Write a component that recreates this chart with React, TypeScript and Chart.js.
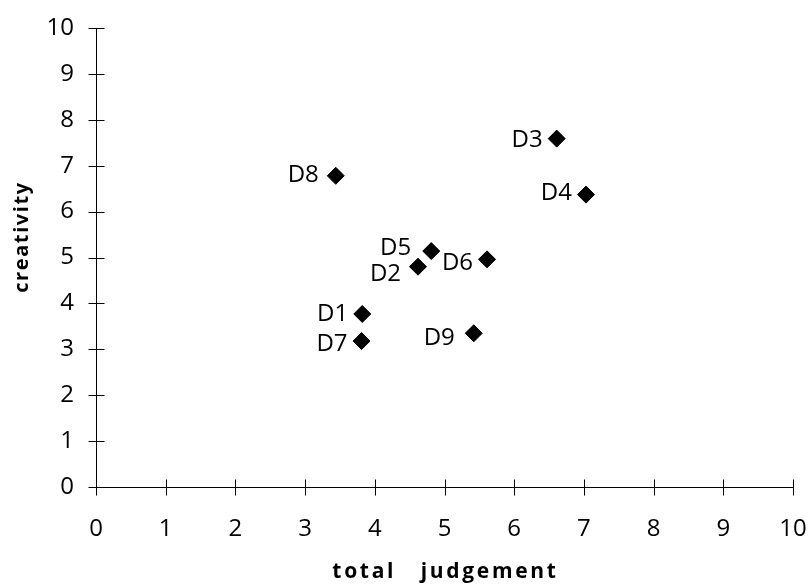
import React, { useEffect, useRef } from "react";
import { Chart, registerables } from "chart.js";

Chart.register(...registerables);

// ---- data ----
const pointNames = ["D1", "D2", "D3", "D4", "D5", "D6", "D7", "D8", "D9"];
const judgementValues = [3.82, 4.62, 6.61, 7.03, 4.81, 5.61, 3.81, 3.44, 5.42];
const creativityValues = [3.77, 4.8, 7.59, 6.37, 5.14, 4.96, 3.18, 6.78, 3.35];
const axisTickValues = [0, 1, 2, 3, 4, 5, 6, 7, 8, 9, 10];
const xTitle = "total   judgement";
const yTitle = "creativity";

// label placement nudges (layout only): [gap from marker centre to text right edge, vertical shift]
const labelNudge: [number, number][] = [
  [14, -1],
  [17, 6],
  [14, 0],
  [14, -3],
  [20, -5],
  [14, 2.5],
  [14, 1.5],
  [17, -2],
  [19, 3.5],
];

const FONT = "'Open Sans', 'DejaVu Sans', sans-serif";

const decorPlugin = {
  id: "decor",
  afterDraw(chart: any) {
    const ctx = chart.ctx as CanvasRenderingContext2D;
    const xs = chart.scales.x;
    const ys = chart.scales.y;
    const area = chart.chartArea;
    ctx.save();
    // crossing tick marks
    ctx.strokeStyle = "#000";
    ctx.lineWidth = 1;
    ctx.beginPath();
    const yAxisX = Math.round(area.left) + 0.5;
    const xAxisY = Math.round(area.bottom) + 0.5;
    axisTickValues.forEach((v) => {
      const py = Math.round(ys.getPixelForValue(v)) + 0.5;
      ctx.moveTo(yAxisX - 8, py);
      ctx.lineTo(yAxisX + 8, py);
      const px = Math.round(xs.getPixelForValue(v)) + 0.5;
      ctx.moveTo(px, xAxisY - 8);
      ctx.lineTo(px, xAxisY + 8);
    });
    ctx.stroke();

    // point labels
    const meta = chart.getDatasetMeta(0);
    ctx.fillStyle = "#000";
    ctx.font = `24px ${FONT}`;
    ctx.textAlign = "right";
    ctx.textBaseline = "alphabetic";
    meta.data.forEach((el: any, i: number) => {
      const [gap, dy] = labelNudge[i] || [15, 0];
      ctx.fillText(pointNames[i], el.x - gap, el.y + dy + 8.5);
    });

    // axis titles
    ctx.font = `bold 21px ${FONT}`;
    (ctx as any).letterSpacing = "2.7px";
    ctx.textAlign = "center";
    ctx.fillText(xTitle, (area.left + area.right) / 2 + 1, 578);
    ctx.font = `bold 20px ${FONT}`;
    (ctx as any).letterSpacing = "1.6px";
    ctx.translate(28, 237);
    ctx.rotate(-Math.PI / 2);
    ctx.fillText(yTitle, 0, 0);
    ctx.restore();
  },
};

export default function App() {
  const canvasRef = useRef<HTMLCanvasElement | null>(null);

  useEffect(() => {
    if (!canvasRef.current) return;
    const points = judgementValues.map((x, i) => ({ x, y: creativityValues[i] }));
    const chart = new Chart(canvasRef.current, {
      type: "scatter",
      data: {
        datasets: [
          {
            data: points,
            pointStyle: "rectRot",
            pointRadius: 8.5,
            pointHoverRadius: 8.5,
            backgroundColor: "#000",
            borderColor: "#000",
            borderWidth: 1,
          },
        ],
      },
      options: {
        animation: false,
        responsive: true,
        maintainAspectRatio: false,
        layout: { padding: { top: 28, right: 17, left: 0, bottom: 0 } },
        plugins: { legend: { display: false }, tooltip: { enabled: false } },
        scales: {
          x: {
            type: "linear",
            min: 0,
            max: 10,
            afterFit: (s: any) => {
              s.height = 99;
            },
            afterBuildTicks: (s: any) => {
              s.ticks = axisTickValues.map((v) => ({ value: v }));
            },
            grid: { display: false, drawTicks: true, tickLength: 28 },
            border: { display: true, color: "#000", width: 1 },
            ticks: {
              padding: 0,
              color: "#000",
              font: { family: FONT, size: 24 },
              maxRotation: 0,
            },
          },
          y: {
            type: "linear",
            min: 0,
            max: 10,
            afterFit: (s: any) => {
              s.width = 96;
            },
            afterBuildTicks: (s: any) => {
              s.ticks = axisTickValues.map((v) => ({ value: v }));
            },
            grid: { display: false, drawTicks: true, tickLength: 22 },
            border: { display: true, color: "#000", width: 1 },
            ticks: {
              padding: 0,
              color: "#000",
              font: { family: FONT, size: 24 },
            },
          },
        },
      },
      plugins: [decorPlugin],
    });
    return () => chart.destroy();
  }, []);

  return (
    <div style={{ position: "fixed", left: 0, top: 0, width: 810, height: 586, background: "#fff" }}>
      <canvas ref={canvasRef} />
    </div>
  );
}
